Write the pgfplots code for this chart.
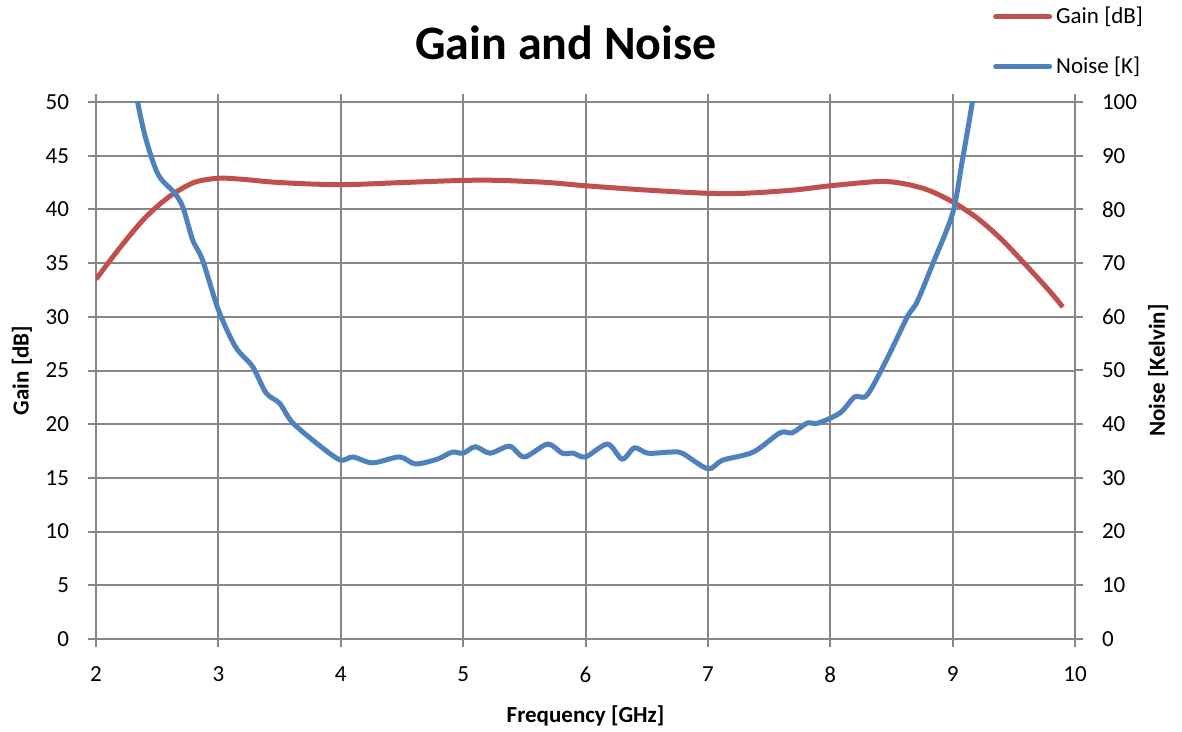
\documentclass[border=0pt]{standalone}
\usepackage{pgfplots}
\pgfplotsset{compat=1.18}
\usepackage{fontspec}
\setmainfont{Carlito}

\definecolor{gainred}{HTML}{C0504D}
\definecolor{noiseblue}{HTML}{4F81BD}
\definecolor{gridgray}{HTML}{878787}

\pgfplotstableread{
f gain
2.00 33.5
2.20 36.5
2.40 39.2
2.60 41.2
2.80 42.5
3.00 42.9
3.20 42.8
3.50 42.5
4.00 42.3
4.50 42.5
5.00 42.7
5.30 42.7
5.70 42.5
6.00 42.2
6.50 41.8
7.00 41.5
7.30 41.5
7.70 41.8
8.00 42.2
8.40 42.6
8.60 42.4
8.80 41.8
9.00 40.7
9.20 39.2
9.40 37.2
9.60 34.8
9.80 32.3
9.90 30.9
}\gaintable

\pgfplotstableread{
f noise
2.30 106
2.34 100
2.41 92.9
2.51 86.4
2.64 83.1
2.71 80.4
2.79 74.3
2.87 70.6
3.00 61.3
3.14 54.4
3.28 50.7
3.39 45.8
3.50 43.9
3.61 40.2
3.85 35.6
4.00 33.3
4.10 33.9
4.26 32.8
4.48 33.9
4.61 32.6
4.79 33.5
4.91 34.8
5.00 34.6
5.10 35.8
5.22 34.6
5.38 35.9
5.50 33.9
5.69 36.3
5.81 34.6
5.90 34.6
6.00 33.9
6.18 36.3
6.30 33.5
6.40 35.6
6.51 34.6
6.69 34.8
6.79 34.6
7.00 31.7
7.12 33.3
7.37 34.8
7.59 38.4
7.69 38.4
7.81 40.2
7.90 40.2
8.08 42.1
8.20 45.1
8.30 45.4
8.46 52.0
8.63 60.0
8.71 62.8
8.84 70.0
9.00 79.3
9.08 89.2
9.16 99.8
9.20 106
}\noisetable

\begin{document}
\begin{tikzpicture}
    \pgfplotsset{
        every axis/.append style={
            scale only axis,
            width=489.5pt, height=268.5pt,
            xmin=2, xmax=10,
            font=\fontsize{11.5}{13}\selectfont,
            /pgf/number format/assume math mode=true,
            axis line style={gridgray, line width=1pt},
            tick style={gridgray, line width=1pt},
            tick align=outside,
            major tick length=4pt,
        },
    }
    \begin{axis}[
        ymin=0, ymax=50,
        ytick={0,5,...,50},
        xtick={2,3,...,10},
        axis y line*=left,
        grid=major,
        grid style={gridgray, line width=1pt},
        yticklabel style={xshift=-6pt},
        xticklabel style={yshift=-6.5pt},
        xlabel={\textbf{Frequency [GHz]}},
        ylabel={\textbf{Gain [dB]}},
        xlabel style={at={(axis description cs:0.5,-0.143)}, anchor=center},
        ylabel style={at={(axis description cs:-0.0756,0.5)}, anchor=center, rotate=0},
        title={\fontsize{24}{28}\selectfont\bfseries Gain and Noise},
        title style={at={(axis description cs:0.48,1.056)}, anchor=base, yshift=0pt},
    ]
    \addplot [gainred, line width=2.5pt, smooth] table [x=f, y=gain] {\gaintable};
    \coordinate (bl) at (rel axis cs:0,0);
    \coordinate (tr) at (rel axis cs:1,1);
    \end{axis}
    \begin{axis}[
        ymin=0, ymax=100,
        ytick={0,10,...,100},
        axis y line*=right,
        axis x line=none,
        yticklabel style={xshift=6pt},
        ylabel={\textbf{Noise [Kelvin]}},
        ylabel style={at={(axis description cs:1.085,0.5)}, anchor=center, rotate=0},
        legend style={at={(axis description cs:0.916,1.185)}, anchor=north west,
            draw=none, fill=none, font=\fontsize{11.5}{13}\selectfont,
            row sep=11pt, inner sep=0pt,
            /tikz/every even column/.append style={column sep=2pt}},
        legend cell align=left,
        legend image code/.code={\draw[#1, line cap=round] (0cm,0cm) -- (27pt,0cm);},
    ]
    \addlegendimage{gainred, line width=2.5pt}
    \addlegendentry{Gain [dB]}
    \addplot [noiseblue, line width=2.5pt, smooth] table [x=f, y=noise] {\noisetable};
    \addlegendentry{Noise [K]}
    \end{axis}
    \pgfresetboundingbox
    \path ([shift={(-48pt,-46pt)}]bl) rectangle ([shift={(53.5pt,51pt)}]tr);
\end{tikzpicture}
\end{document}
